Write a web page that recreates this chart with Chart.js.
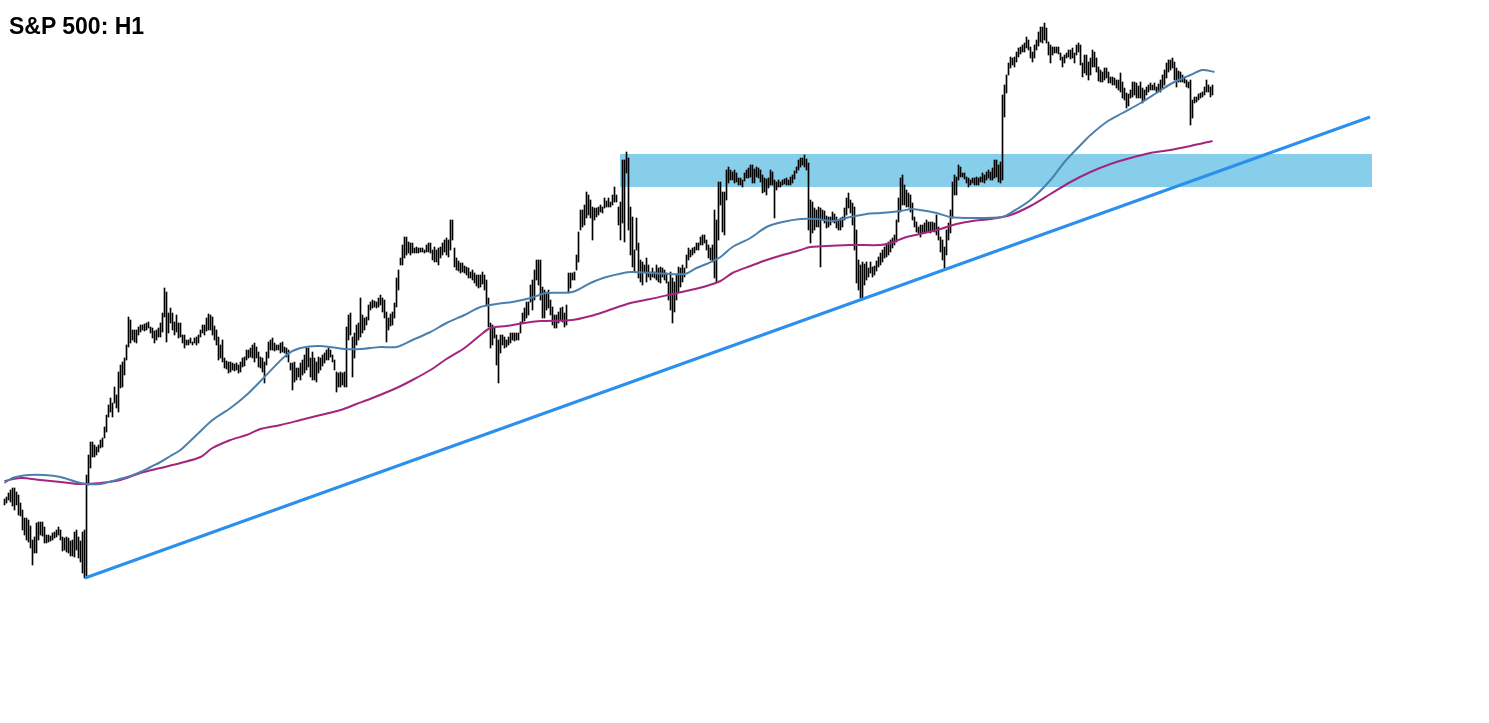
<!DOCTYPE html>
<html lang="en">
<head>
<meta charset="UTF-8">
<title>S&amp;P 500: H1</title>
<script src="https://cdn.jsdelivr.net/npm/chart.js"></script>
<style>
    body { margin: 0; background: #fff; }
    .wrap { position: relative; width: 1489px; height: 723px; }
    .title {
        position: absolute; left: 9px; top: 15px;
        font: bold 23px "Liberation Sans", Arial, sans-serif; line-height: 23px;
        color: #000;
    }
</style>
</head>
<body>
<div class="wrap">
    <canvas id="chart" width="1489" height="723"></canvas>
    <div class="title">S&amp;P 500: H1</div>
</div>

<script>
    // hourly bars, [high, low], one per hour
    const hiLo = [
        [4101,4095],[4103,4097],[4107,4100],[4110,4098],[4112,4094],[4112,4090],[4108,4095],[4105,4085],[4097,4084],[4090,4070],
        [4082,4065],[4082,4060],[4080,4058],[4074,4052],[4060,4035],[4063,4047],[4077,4047],[4078,4060],[4078,4065],[4078,4064],
        [4073,4057],[4065,4057],[4065,4058],[4064,4059],[4067,4060],[4068,4062],[4070,4063],[4073,4065],[4070,4060],[4063,4049],
        [4062,4050],[4063,4048],[4062,4047],[4059,4044],[4060,4044],[4068,4043],[4070,4050],[4063,4042],[4059,4038],[4068,4027],
        [4070,4022],[4125,4024],[4145,4115],[4158,4132],[4158,4143],[4155,4143],[4153,4145],[4155,4148],[4160,4152],[4162,4153],
        [4173,4162],[4185,4168],[4195,4183],[4202,4188],[4197,4183],[4213,4197],[4205,4192],[4228,4188],[4235,4212],[4238,4213],
        [4242,4225],[4255,4240],[4283,4253],[4280,4257],[4270,4260],[4270,4258],[4270,4257],[4273,4265],[4275,4268],[4275,4270],
        [4276,4269],[4277,4270],[4278,4272],[4273,4267],[4272,4262],[4269,4257],[4270,4260],[4272,4263],[4277,4263],[4287,4268],
        [4312,4283],[4308,4258],[4287,4267],[4292,4277],[4287,4270],[4278,4265],[4285,4268],[4277,4262],[4277,4263],[4265,4257],
        [4265,4252],[4260,4255],[4260,4255],[4262,4257],[4258,4255],[4262,4257],[4263,4255],[4265,4257],[4270,4263],[4275,4267],
        [4275,4265],[4282,4269],[4286,4270],[4285,4270],[4283,4265],[4274,4260],[4270,4255],[4263,4240],[4255,4242],[4260,4238],
        [4242,4232],[4239,4231],[4238,4227],[4238,4228],[4237,4230],[4236,4229],[4237,4230],[4235,4227],[4238,4228],[4242,4233],
        [4243,4234],[4250,4240],[4250,4242],[4252,4243],[4255,4242],[4257,4238],[4253,4242],[4248,4233],[4243,4232],[4242,4228],
        [4238,4217],[4248,4235],[4258,4242],[4260,4250],[4262,4250],[4257,4249],[4255,4250],[4255,4250],[4257,4247],[4258,4248],
        [4253,4247],[4252,4243],[4250,4238],[4237,4230],[4237,4210],[4238,4218],[4232,4220],[4232,4223],[4237,4220],[4240,4225],
        [4245,4227],[4252,4230],[4252,4233],[4242,4223],[4248,4220],[4242,4220],[4238,4218],[4243,4227],[4242,4230],[4245,4234],
        [4247,4237],[4250,4240],[4252,4240],[4250,4243],[4245,4238],[4240,4230],[4228,4208],[4227,4213],[4228,4213],[4227,4215],
        [4228,4213],[4273,4213],[4285,4260],[4287,4265],[4263,4223],[4267,4242],[4275,4255],[4277,4260],[4302,4263],[4285,4267],
        [4282,4270],[4283,4275],[4295,4280],[4298,4290],[4300,4292],[4299,4293],[4298,4292],[4302,4293],[4305,4295],[4302,4288],
        [4300,4282],[4288,4258],[4282,4270],[4286,4274],[4288,4275],[4297,4282],[4322,4293],[4330,4310],[4342,4335],[4355,4335],
        [4363,4342],[4363,4345],[4358,4347],[4357,4345],[4357,4347],[4352,4347],[4353,4347],[4352,4347],[4352,4348],[4352,4348],
        [4350,4347],[4355,4348],[4357,4348],[4357,4347],[4350,4340],[4353,4338],[4350,4338],[4352,4335],[4353,4342],[4357,4345],
        [4360,4348],[4362,4345],[4360,4343],[4380,4350],[4380,4360],[4352,4333],[4342,4330],[4339,4329],[4337,4327],[4337,4328],
        [4334,4327],[4333,4325],[4332,4322],[4328,4322],[4330,4320],[4327,4317],[4325,4314],[4325,4312],[4325,4313],[4328,4316],
        [4325,4310],[4320,4295],[4302,4273],[4277,4252],[4275,4255],[4272,4262],[4265,4235],[4260,4217],[4265,4247],[4265,4255],
        [4263,4252],[4260,4253],[4263,4255],[4267,4257],[4267,4260],[4267,4259],[4267,4260],[4267,4260],[4278,4267],[4287,4277],
        [4292,4279],[4298,4282],[4298,4285],[4315,4298],[4320,4290],[4330,4300],[4340,4320],[4340,4315],[4340,4300],[4313,4282],
        [4310,4282],[4308,4290],[4310,4292],[4300,4285],[4293,4275],[4285,4272],[4285,4272],[4288,4277],[4292,4280],[4293,4278],
        [4287,4273],[4295,4275],[4327,4307],[4327,4312],[4327,4320],[4328,4320],[4345,4330],[4368,4338],[4390,4370],[4390,4373],
        [4395,4375],[4408,4382],[4405,4385],[4400,4382],[4393,4360],[4392,4380],[4392,4383],[4393,4385],[4395,4388],[4393,4387],
        [4402,4392],[4399,4393],[4402,4393],[4398,4393],[4405,4395],[4413,4398],[4405,4398],[4393,4375],[4398,4360],[4440,4377],
        [4440,4358],[4448,4427],[4442,4370],[4393,4345],[4383,4333],[4350,4328],[4382,4350],[4357,4322],[4340,4318],[4338,4315],
        [4335,4328],[4342,4318],[4335,4323],[4328,4320],[4332,4323],[4328,4322],[4335,4320],[4332,4318],[4333,4317],[4332,4323],
        [4330,4320],[4327,4317],[4318,4300],[4328,4290],[4322,4277],[4318,4288],[4325,4300],[4333,4308],[4332,4313],[4335,4318],
        [4332,4323],[4345,4332],[4352,4340],[4350,4343],[4352,4345],[4353,4347],[4357,4350],[4357,4350],[4363,4355],[4365,4355],
        [4365,4357],[4360,4350],[4355,4342],[4352,4340],[4355,4338],[4390,4322],[4380,4318],[4418,4360],[4418,4395],[4408,4368],
        [4408,4365],[4430,4400],[4433,4417],[4430,4420],[4428,4420],[4430,4417],[4427,4418],[4422,4415],[4422,4415],[4420,4413],
        [4427,4419],[4430,4422],[4432,4422],[4435,4423],[4435,4417],[4431,4417],[4433,4423],[4432,4422],[4430,4418],[4425,4407],
        [4422,4408],[4421,4405],[4422,4412],[4430,4415],[4428,4415],[4420,4382],[4418,4410],[4420,4413],[4418,4413],[4420,4415],
        [4421,4416],[4422,4415],[4420,4415],[4423,4415],[4425,4417],[4429,4421],[4433,4427],[4440,4430],[4442,4433],[4442,4435],
        [4445,4433],[4441,4430],[4437,4370],[4400,4357],[4398,4367],[4392,4370],[4390,4373],[4393,4373],[4392,4333],[4390,4380],
        [4389,4377],[4384,4372],[4383,4373],[4383,4375],[4388,4378],[4386,4377],[4383,4372],[4380,4370],[4382,4370],[4383,4373],
        [4392,4380],[4402,4385],[4407,4392],[4400,4387],[4397,4375],[4393,4350],[4370,4317],[4340,4310],[4335,4302],[4338,4302],
        [4336,4315],[4338,4320],[4332,4323],[4338,4327],[4333,4323],[4334,4325],[4339,4329],[4343,4333],[4347,4335],[4350,4338],
        [4353,4342],[4356,4343],[4358,4345],[4360,4348],[4362,4352],[4365,4355],[4380,4358],[4402,4378],[4422,4388],[4425,4395],
        [4415,4395],[4410,4393],[4407,4393],[4405,4388],[4397,4380],[4383,4373],[4378,4368],[4373,4367],[4375,4363],[4375,4367],
        [4377,4367],[4380,4368],[4378,4368],[4378,4367],[4378,4370],[4377,4368],[4385,4365],[4373,4360],[4363,4348],[4360,4340],
        [4353,4332],[4370,4345],[4377,4360],[4390,4367],[4418,4382],[4425,4405],[4423,4405],[4435,4420],[4433,4423],[4427,4423],
        [4427,4421],[4423,4417],[4422,4413],[4420,4415],[4422,4417],[4422,4415],[4423,4415],[4422,4415],[4423,4418],[4427,4418],
        [4425,4417],[4428,4420],[4430,4422],[4428,4420],[4432,4420],[4440,4422],[4440,4423],[4435,4418],[4438,4417],[4505,4420],
        [4515,4483],[4525,4507],[4537,4525],[4543,4532],[4542,4535],[4543,4533],[4548,4538],[4552,4543],[4553,4546],[4555,4548],
        [4557,4548],[4563,4552],[4560,4550],[4553,4542],[4548,4538],[4555,4542],[4560,4550],[4568,4554],[4573,4558],[4573,4557],
        [4577,4560],[4572,4557],[4558,4545],[4555,4537],[4553,4545],[4553,4547],[4553,4547],[4553,4546],[4547,4540],[4543,4533],
        [4545,4537],[4547,4542],[4550,4543],[4550,4541],[4552,4542],[4547,4537],[4555,4545],[4557,4548],[4555,4535],[4537,4523],
        [4545,4527],[4545,4525],[4538,4520],[4542,4525],[4550,4533],[4548,4533],[4542,4528],[4533,4519],[4530,4518],[4528,4518],
        [4532,4520],[4532,4522],[4528,4517],[4523,4517],[4523,4515],[4522,4515],[4520,4512],[4520,4510],[4527,4508],[4518,4502],
        [4512,4500],[4507,4492],[4506,4494],[4510,4502],[4518,4503],[4518,4505],[4517,4502],[4514,4502],[4518,4502],[4512,4497],
        [4510,4500],[4513,4505],[4515,4508],[4517,4510],[4515,4510],[4517,4510],[4513,4508],[4516,4509],[4520,4508],[4525,4512],
        [4530,4515],[4537,4522],[4540,4528],[4540,4530],[4542,4532],[4538,4520],[4532,4513],[4529,4518],[4528,4518],[4525,4518],
        [4523,4517],[4520,4513],[4518,4512],[4520,4475],[4500,4482],[4503,4497],[4503,4498],[4506,4500],[4507,4502],[4508,4503],
        [4513,4505],[4520,4508],[4515,4508],[4513,4503],[4515,4505]
    ];

    // moving averages, [bar index, price]
    const fastMa = [
        [0,4117],[4,4122],[12,4125],[20,4125],[28,4123],[36,4118],[41,4116],[48,4116],[54,4119],[63,4124],
        [68,4128],[73,4133],[78,4138],[83,4144],[88,4150],[96,4165],[104,4180],[113,4192],[121,4205],[130,4223],
        [141,4245],[148,4252],[158,4254],[170,4251],[178,4251],[188,4253],[196,4253],[204,4260],[213,4268],[221,4277],
        [230,4285],[238,4293],[246,4296],[254,4298],[263,4302],[271,4307],[284,4308],[293,4317],[301,4323],[313,4328],
        [323,4327],[340,4326],[346,4332],[351,4336],[358,4343],[364,4353],[373,4362],[381,4373],[389,4378],[398,4381],
        [406,4381],[414,4379],[423,4383],[431,4386],[438,4387],[448,4389],[454,4391],[466,4387],[473,4383],[484,4382],
        [499,4383],[503,4387],[513,4400],[523,4420],[530,4438],[539,4457],[543,4465],[551,4478],[559,4487],[568,4497],
        [576,4507],[584,4517],[593,4525],[599,4530],[605,4528]
    ];
    const slowMa = [
        [0,4119],[8,4122],[18,4120],[28,4118],[38,4116],[48,4117],[58,4120],[68,4127],[78,4132],[88,4137],
        [98,4143],[104,4152],[113,4160],[121,4165],[128,4171],[138,4175],[148,4180],[158,4185],[168,4190],[176,4196],
        [184,4202],[196,4212],[204,4220],[213,4230],[221,4241],[230,4252],[238,4265],[243,4272],[251,4274],[260,4277],
        [268,4279],[284,4280],[293,4284],[301,4289],[313,4297],[323,4301],[334,4306],[343,4310],[351,4314],[358,4319],
        [364,4327],[373,4334],[381,4340],[389,4345],[398,4350],[403,4353],[423,4355],[438,4355],[443,4357],[451,4363],
        [460,4367],[468,4371],[476,4376],[484,4379],[493,4381],[503,4385],[513,4394],[523,4406],[533,4418],[543,4428],
        [553,4436],[563,4442],[573,4447],[583,4450],[593,4454],[604,4459]
    ];

    // support trend line and resistance zone
    const trendLine = [[40.25, 4022], [682.75, 4483]];
    const zoneX = [307.75, 683.75];
    const zoneTop = 4446;
    const zoneBottom = 4413;

    const pts = arr => arr.map(p => ({ x: p[0], y: p[1] }));

    new Chart(document.getElementById('chart'), {
        type: 'bar',
        data: {
            datasets: [
                {
                    type: 'line',
                    data: zoneX.map(x => ({ x: x, y: zoneBottom })),
                    borderWidth: 0,
                    pointRadius: 0,
                    fill: false,
                    order: 10
                },
                {
                    type: 'line',
                    data: zoneX.map(x => ({ x: x, y: zoneTop })),
                    borderWidth: 0,
                    pointRadius: 0,
                    backgroundColor: '#87ceeb',
                    fill: '-1',
                    order: 9
                },
                {
                    type: 'bar',
                    data: hiLo.map((b, i) => ({ x: i, y: [b[1], b[0]] })),
                    backgroundColor: '#000',
                    borderWidth: 0,
                    barThickness: 1,
                    order: 5
                },
                {
                    type: 'line',
                    data: pts(slowMa),
                    borderColor: '#a3257f',
                    borderWidth: 2,
                    pointRadius: 0,
                    tension: 0.3,
                    order: 3
                },
                {
                    type: 'line',
                    data: pts(fastMa),
                    borderColor: '#4b80ae',
                    borderWidth: 2,
                    pointRadius: 0,
                    tension: 0.3,
                    order: 2
                },
                {
                    type: 'line',
                    data: pts(trendLine),
                    borderColor: '#2b8fed',
                    borderWidth: 3,
                    pointRadius: 0,
                    order: 1
                }
            ]
        },
        options: {
            responsive: false,
            animation: false,
            layout: { padding: 0 },
            scales: {
                x: { type: 'linear', min: -2.25, max: 742.25, offset: false, display: false },
                y: { type: 'linear', min: 3877, max: 4600, display: false }
            },
            plugins: {
                legend: { display: false },
                tooltip: { enabled: false },
                filler: { drawTime: 'beforeDatasetsDraw' }
            }
        }
    });
</script>
</body>
</html>
